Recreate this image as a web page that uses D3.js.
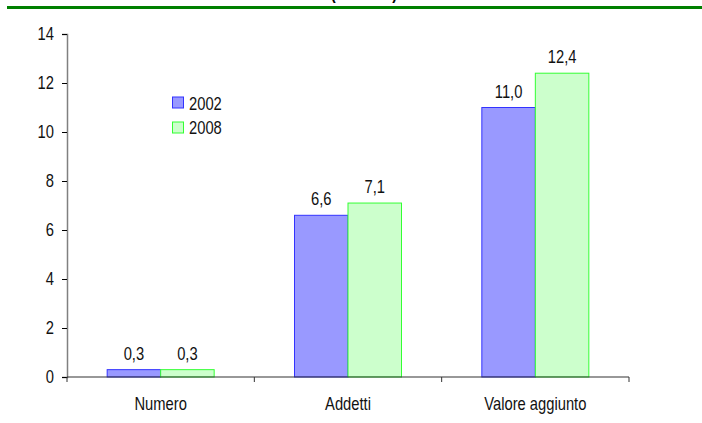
<!DOCTYPE html>
<html><head><meta charset="utf-8">
<script src="https://cdn.jsdelivr.net/npm/d3@7"></script>
<style>
body{margin:0;background:#fff;}
svg{display:block;font-family:"Liberation Sans Narrow","Arial Narrow","Liberation Sans",Arial,sans-serif;}
</style></head>
<body><svg id="c" width="702" height="423"></svg>
<script>
const categories = ["Numero", "Addetti", "Valore aggiunto"];
const seriesNames = ["2002", "2008"];
const values2002 = [0.3, 6.6, 11.0];
const values2008 = [0.3, 7.1, 12.4];
const yTicks = [0, 2, 4, 6, 8, 10, 12, 14];
const titleText = "(valori %)";

const svg = d3.select("#c");
const fills = ["#9999FF", "#CCFFCC"];
const strokes = ["#3333FF", "#33FF33"];
const series = [values2002, values2008];
const NARROW = 0.82;
const FS = 18;

function ntext(g, x, y, str, anchor, opts) {
  opts = opts || {};
  return g.append("text")
    .attr("transform", "translate(" + x + "," + y + ") scale(" + NARROW + ",1)")
    .attr("text-anchor", anchor || "start")
    .attr("font-size", opts.size || FS)
    .attr("font-weight", opts.weight || "normal")
    .attr("fill", opts.fill || "#111")
    .text(str);
}

const x = d3.scaleBand().domain(categories).range([67, 629]).paddingInner(0).paddingOuter(0);
const y = d3.scaleLinear().domain([0, 14]).range([377, 34]);
const barW = 53.5;
const groupOffset = (x.bandwidth() - 2 * barW) / 2;

// title fragment + green rule
ntext(svg, 364, -1, titleText, "middle", {weight: "bold", fill: "#000"});
svg.append("rect").attr("x", 7).attr("y", 6).attr("width", 695).attr("height", 3).attr("fill", "#008000");

// bars
series.forEach((vals, si) => {
  svg.append("g").selectAll("rect").data(vals).join("rect")
    .attr("x", (d, i) => x(categories[i]) + groupOffset + si * barW)
    .attr("y", d => y(d))
    .attr("width", barW)
    .attr("height", d => y(0) - y(d))
    .attr("fill", fills[si])
    .attr("stroke", strokes[si])
    .attr("stroke-width", 1);
  const lg = svg.append("g");
  vals.forEach((d, i) => {
    ntext(lg, x(categories[i]) + groupOffset + si * barW + barW / 2, y(d) - 10,
      d3.format(".1f")(d).replace(".", ","), "middle");
  });
});

// y axis
const yAxis = svg.append("g").attr("transform", "translate(67,0)")
  .call(d3.axisLeft(y).tickValues(yTicks).tickSize(5).tickFormat(""));
yAxis.select(".domain").attr("stroke", "#808080").attr("stroke-width", 1.5);
yAxis.selectAll(".tick line").attr("stroke", "#000");
const yl = svg.append("g");
yTicks.forEach(t => ntext(yl, 54, y(t) + 6.3, String(t), "end"));

// x axis
const bounds = categories.map(c => x(c)).concat([x.range()[1]]);
const xAxis = svg.append("g").attr("transform", "translate(0," + y(0) + ")");
xAxis.append("line").attr("x1", 67).attr("x2", 629).attr("stroke", "#333").attr("stroke-width", 1.2);
xAxis.selectAll("line.t").data(bounds).join("line").attr("class", "t")
  .attr("x1", d => d).attr("x2", d => d).attr("y1", 0).attr("y2", 5).attr("stroke", "#333");
categories.forEach(c => ntext(xAxis, x(c) + x.bandwidth() / 2, 33, c, "middle"));

// legend
const lg = svg.append("g");
seriesNames.forEach((n, i) => {
  lg.append("rect").attr("x", 172.5).attr("y", 97 + i * 25).attr("width", 11).attr("height", 11)
    .attr("fill", fills[i]).attr("stroke", strokes[i]).attr("stroke-width", 1);
  ntext(lg, 189, 109.5 + i * 24.7, n, "start");
});
</script></body></html>
